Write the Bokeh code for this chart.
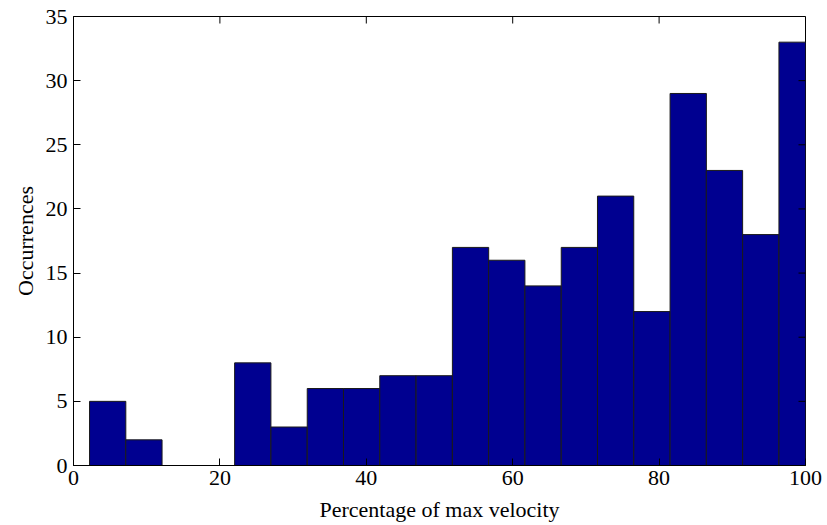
import math
from bokeh.plotting import figure
from bokeh.models import FixedTicker
from bokeh.embed import file_html
from bokeh.resources import INLINE

# Histogram bins (centres in % of max velocity) and their counts
bin_centers = [4.67, 9.62, 14.58, 19.54, 24.49, 29.45, 34.41, 39.36, 44.32, 49.28,
               54.24, 59.19, 64.15, 69.11, 74.06, 79.02, 83.98, 88.93, 93.89, 98.85]
counts = [5, 2, 0, 0, 8, 3, 6, 6, 7, 7,
          17, 16, 14, 17, 21, 12, 29, 23, 18, 33]
bin_width = 4.957

x_ticks = [0, 20, 40, 60, 80, 100]
y_ticks = [0, 5, 10, 15, 20, 25, 30, 35]
x_lim = (0, 100)
y_lim = (0, 35)

FONT = "Liberation Serif"
FONT_SIZE = "22px"
TICK_LEN = 7

p = figure(width=827, height=525, x_range=x_lim, y_range=y_lim,
           output_backend="svg", toolbar_location=None,
           min_border_left=73, min_border_right=22, min_border_top=16, min_border_bottom=60)

p.vbar(x=bin_centers, top=counts, width=bin_width, bottom=0,
       fill_color="#000090", line_color="#1a1a1a", line_width=1)

# mirrored inward ticks on the top and right edges of the box
p.ray(x=x_ticks, y=[y_lim[1]] * len(x_ticks), length=TICK_LEN, length_units="screen",
      angle=-math.pi / 2, line_color="black", line_width=1)
p.ray(x=[x_lim[1]] * len(y_ticks), y=y_ticks, length=TICK_LEN, length_units="screen",
      angle=math.pi, line_color="black", line_width=1)

p.grid.visible = False
p.outline_line_color = "black"
p.outline_line_alpha = 1
p.background_fill_color = "white"
p.border_fill_color = "white"

for ax, ticks in ((p.xaxis[0], x_ticks), (p.yaxis[0], y_ticks)):
    ax.ticker = FixedTicker(ticks=ticks)
    ax.major_tick_in = TICK_LEN
    ax.major_tick_out = 0
    ax.minor_tick_line_color = None
    ax.axis_line_color = "black"
    ax.major_tick_line_color = "black"
    ax.major_label_text_font = FONT
    ax.major_label_text_font_size = FONT_SIZE
    ax.major_label_text_color = "black"
    ax.axis_label_text_font = FONT
    ax.axis_label_text_font_size = FONT_SIZE
    ax.axis_label_text_font_style = "normal"
    ax.axis_label_text_color = "black"

p.xaxis[0].axis_label = "Percentage of max velocity"
p.xaxis[0].major_label_standoff = 5
p.xaxis[0].axis_label_standoff = 9

p.yaxis[0].axis_label = "Occurrences"
p.yaxis[0].major_label_standoff = 6
p.yaxis[0].axis_label_standoff = 5

open("out.html", "w").write(file_html(p, INLINE))
